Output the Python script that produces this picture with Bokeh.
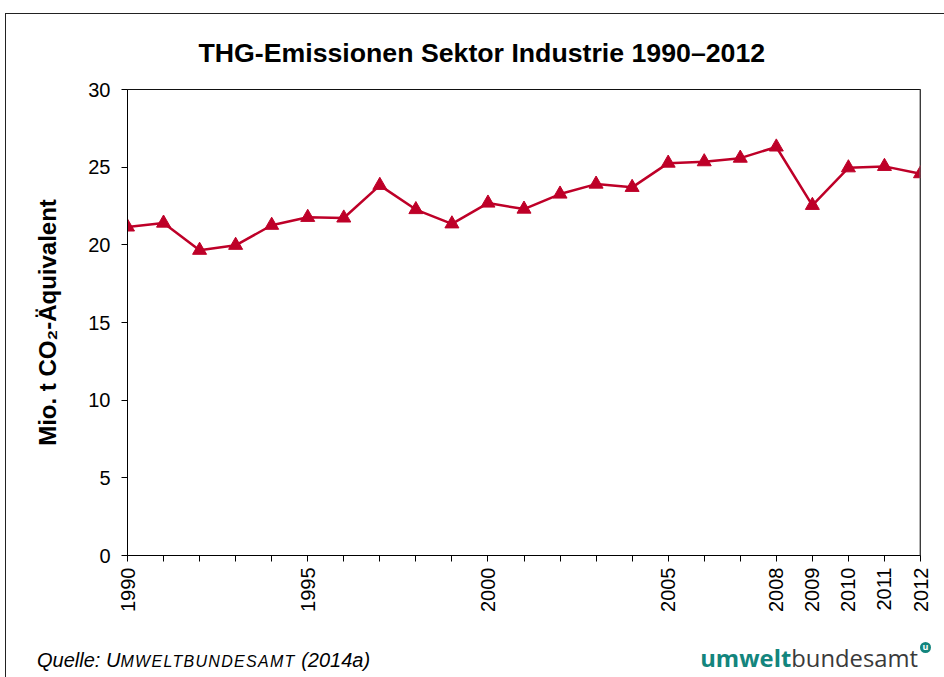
import math
from bokeh.plotting import figure
from bokeh.models import Range1d, FixedTicker, Span, Div
from bokeh.layouts import column
from bokeh.embed import file_html
from bokeh.resources import INLINE

# ---- data ----
years = list(range(1990, 2013))
emissions = [21.15, 21.4, 19.65, 19.97, 21.26, 21.77, 21.73, 23.83, 22.27, 21.35,
             22.69, 22.3, 23.27, 23.91, 23.7, 25.26, 25.35, 25.58, 26.3, 22.54,
             24.96, 25.05, 24.58]
labeled_years = [1990, 1995, 2000, 2005, 2008, 2009, 2010, 2011, 2012]
y_ticks = [0, 5, 10, 15, 20, 25, 30]

title_text = "THG-Emissionen Sektor Industrie 1990–2012"
y_label = "Mio. t CO₂-Äquivalent"
source_prefix = "Quelle:"
source_org_first = "U"
source_org_rest = "MWELTBUNDESAMT"
source_year = "(2014a)"
logo_bold = "umwelt"
logo_light = "bundesamt"

FONT = "Liberation Sans"
RED = "#BE0028"
TEAL = "#13857D"

W = 938
p = figure(width=W, height=616, output_backend="svg", toolbar_location=None,
           x_range=Range1d(years[0], years[-1]), y_range=Range1d(0, 30),
           min_border_left=121, min_border_right=24, min_border_top=74,
           min_border_bottom=75)

p.xgrid.visible = False
p.ygrid.visible = False
p.outline_line_color = "#111111"
p.outline_line_width = 1
p.background_fill_color = "white"
p.border_fill_color = "white"

# title
p.title.text = title_text
p.title.text_font = FONT
p.title.text_font_size = "26.7px"
p.title.text_font_style = "bold"
p.title.text_color = "black"
p.title.align = "left"
p.title.offset = 71
p.title.standoff = 43

# x axis
xa = p.xaxis[0]
xa.ticker = FixedTicker(ticks=years)
xa.major_label_overrides = {y: (str(y) if y in labeled_years else "") for y in years}
xa.major_label_orientation = math.pi / 2
xa.major_label_text_font = FONT
xa.major_label_text_font_size = "20px"
xa.major_label_text_color = "black"
xa.major_tick_in = 0
xa.major_tick_out = 6
xa.minor_tick_out = 0
xa.minor_tick_in = 0
xa.major_label_standoff = 6
xa.axis_line_color = "black"
xa.major_tick_line_color = "black"

# y axis
ya = p.yaxis[0]
ya.ticker = FixedTicker(ticks=y_ticks)
ya.major_label_text_font = FONT
ya.major_label_text_font_size = "20px"
ya.major_label_text_color = "black"
ya.major_tick_in = 0
ya.major_tick_out = 6
ya.minor_tick_in = 0
ya.minor_tick_out = 0
ya.major_label_standoff = 11
ya.axis_line_color = "black"
ya.major_tick_line_color = "black"
ya.axis_label = y_label
ya.axis_label_text_font = FONT
ya.axis_label_text_font_size = "24px"
ya.axis_label_text_font_style = "bold"
ya.axis_label_text_color = "black"
ya.axis_label_standoff = 24

# right border in grey
p.add_layout(Span(location=years[-1], dimension="height", line_color="#666666", line_width=2))

# data
p.line(years, emissions, line_color=RED, line_width=2.5)
p.scatter(years, emissions, marker="triangle", size=14, fill_color=RED, line_color=RED)

# ---- footer strip (HTML text) ----
FH = 47
footer_html = (
    f'<div style="position:relative;width:{W}px;height:{FH}px;overflow:hidden;margin:0;padding:0;">'
    f'<span style="position:absolute;left:31px;top:20px;line-height:20px;white-space:nowrap;'
    f"font-family:'Liberation Sans';font-style:italic;font-size:20px;color:#000;\">"
    f'{source_prefix} {source_org_first}<span style="font-size:16px;letter-spacing:1.3px;">'
    f'{source_org_rest}</span> {source_year}</span>'
    f'<span style="position:absolute;right:26px;top:17px;line-height:23px;white-space:nowrap;'
    f"font-family:'Open Sans';font-size:23.8px;\">"
    f'<span style="color:{TEAL};font-weight:700;">{logo_bold}</span>'
    f'<span style="color:#3a3a3a;font-weight:400;">{logo_light}</span></span>'
    f'<span style="position:absolute;left:914px;top:12px;width:11px;height:11px;border-radius:50%;'
    f"background:{TEAL};color:#fff;font-family:'Open Sans';font-weight:700;font-size:9px;"
    f'line-height:10px;text-align:center;">u</span>'
    f'</div>'
)
foot = Div(text=footer_html, width=W, height=FH, margin=0)

layout = column(p, foot, spacing=0,
                styles={"margin-left": "5px", "margin-top": "13px",
                        "border-left": "1px solid #222222",
                        "border-top": "1px solid #222222"})

open("out.html", "w").write(file_html(layout, INLINE))
